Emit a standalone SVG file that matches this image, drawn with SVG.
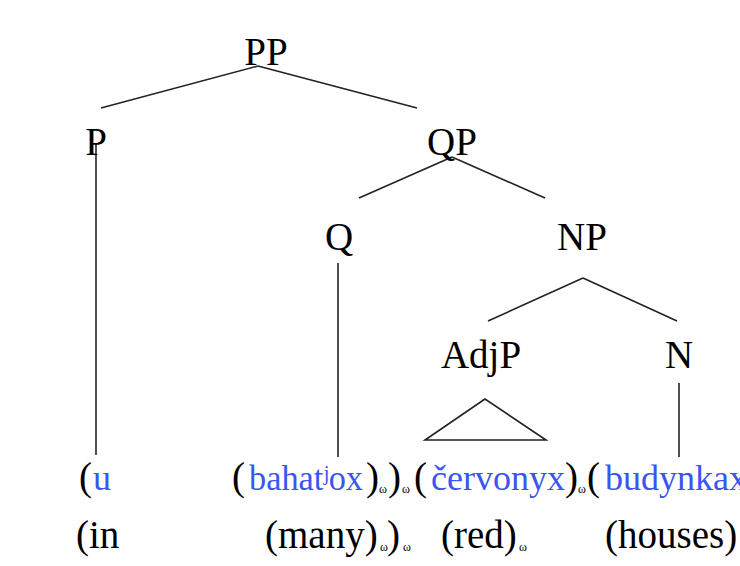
<svg xmlns="http://www.w3.org/2000/svg" width="740" height="566" viewBox="0 0 740 566">
<style>
.lbl{font-family:"Liberation Serif","Times New Roman",serif;font-size:39px;fill:#000;text-anchor:middle}
.blk{font-family:"Liberation Serif","Times New Roman",serif;font-size:39px;fill:#000}
.blu{font-family:"Liberation Serif","Times New Roman","DejaVu Serif",serif;font-size:36px;fill:#3a55f0}
.om{font-family:"Liberation Serif","Times New Roman",serif;font-size:12px;fill:#000}
.ln{stroke:#222;stroke-width:1.6;fill:none}
</style>
<rect width="740" height="566" fill="#fff"/>
<g id="connectors">
<line class="ln" x1="258" y1="66" x2="101" y2="108"/>
<line class="ln" x1="258" y1="66" x2="417" y2="108"/>
<line class="ln" x1="96" y1="143" x2="96" y2="455"/>
<line class="ln" x1="452" y1="157" x2="359" y2="198"/>
<line class="ln" x1="452" y1="157" x2="545" y2="198"/>
<line class="ln" x1="338" y1="263" x2="338" y2="457"/>
<line class="ln" x1="583" y1="278" x2="488" y2="321"/>
<line class="ln" x1="583" y1="278" x2="677" y2="321"/>
<polygon class="ln" points="485,399 425,440 546,440"/>
<line class="ln" x1="679" y1="383" x2="679" y2="457"/>
</g>
<g id="PP"><text class="lbl" x="266" y="65">PP</text></g>
<g id="P"><text class="lbl" x="96" y="155">P</text></g>
<g id="QP"><text class="lbl" x="452" y="155">QP</text></g>
<g id="Q"><text class="lbl" x="339" y="250">Q</text></g>
<g id="NP"><text class="lbl" x="582" y="250">NP</text></g>
<g id="AdjP"><text class="lbl" x="481" y="368">AdjP</text></g>
<g id="N"><text class="lbl" x="679" y="368">N</text></g>
<g id="row-ukrainian">
<text class="blk" x="79" y="490">(</text><text class="blu" x="93" y="490">u</text>
<text class="blk" x="232" y="490">(</text><text class="blu" x="249" y="490" textLength="114" lengthAdjust="spacingAndGlyphs">bahatʲox</text>
<text class="blk" x="366" y="490">)</text><text class="om" x="379" y="493">ω</text>
<text class="blk" x="388" y="490">)</text><text class="om" x="402" y="493">ω</text>
<text class="blk" x="414" y="490">(</text><text class="blu" x="431" y="490">červonyx</text>
<text class="blk" x="565" y="490">)</text><text class="om" x="578" y="493">ω</text>
<text class="blk" x="587" y="490">(</text><text class="blu" x="605" y="490">budynkax</text>
</g>
<g id="row-english">
<text class="blk" x="76" y="548">(in</text>
<text class="blk" x="265" y="548">(many)</text><text class="om" x="380" y="551">ω</text>
<text class="blk" x="387" y="548">)</text><text class="om" x="403" y="551">ω</text>
<text class="blk" x="441" y="548">(red)</text><text class="om" x="519" y="551">ω</text>
<text class="blk" x="605" y="548">(houses)</text>
</g>
</svg>
